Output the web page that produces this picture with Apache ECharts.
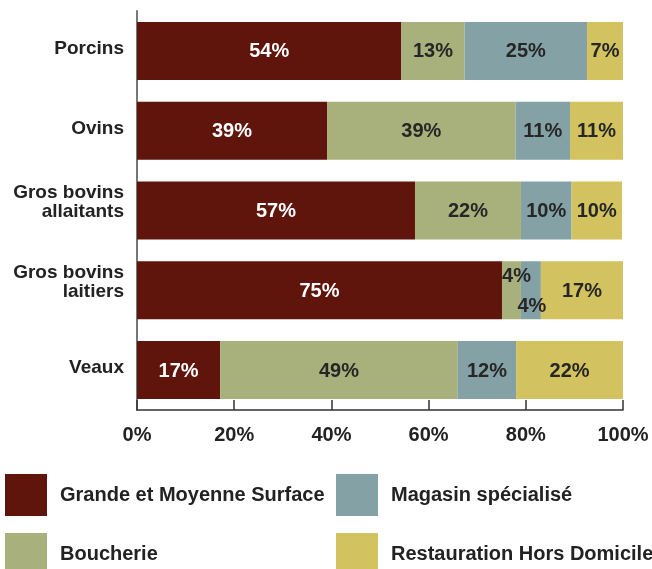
<!DOCTYPE html>
<html>
<head>
<meta charset="utf-8">
<script src="https://cdn.jsdelivr.net/npm/echarts@6/dist/echarts.min.js"></script>
<style>
html,body{margin:0;padding:0;background:#fff;}
#chart{width:652px;height:569px;}
</style>
</head>
<body>
<div id="chart"></div>
<script>
var categories = ['Porcins', 'Ovins', 'Gros bovins\nallaitants', 'Gros bovins\nlaitiers', 'Veaux'];
var seriesNames = ['Grande et Moyenne Surface', 'Boucherie', 'Magasin spécialisé', 'Restauration Hors Domicile'];
var gms = [54.4, 39.1, 57.2, 75.1, 17.1];
var boucherie = [13.0, 38.8, 21.8, 3.9, 48.9];
var magasin = [25.2, 11.2, 10.4, 4.1, 12.0];
var restauration = [7.4, 10.9, 10.4, 16.9, 22.0];
var xTicks = [0, 20, 40, 60, 80, 100];

var colors = ['#60150c', '#a8b07c', '#84a1a6', '#d2c260'];
var labelColors = ['#ffffff', '#262626', '#262626', '#262626'];
var FONT = '"Liberation Sans", Arial, sans-serif';

var chart = echarts.init(document.getElementById('chart'), null, {renderer: 'canvas'});

function makeData(arr, si) {
  return arr.map(function (v, i) {
    var item = {value: v};
    if (i === 3 && si === 1) item.label = {offset: [5, -14]};
    if (i === 3 && si === 2) item.label = {offset: [1, 16]};
    return item;
  });
}

var allValues = [gms, boucherie, magasin, restauration];
var series = allValues.map(function (arr, si) {
  return {
    name: seriesNames[si],
    type: 'bar',
    stack: 'total',
    barWidth: 58,
    data: makeData(arr, si),
    itemStyle: {color: colors[si]},
    label: {
      show: true,
      position: 'inside',
      offset: [0, 1],
      formatter: function (p) { return Math.round(p.value) + '%'; },
      color: labelColors[si],
      fontFamily: FONT,
      fontWeight: 'bold',
      fontSize: 20
    },
    emphasis: {disabled: true}
  };
});

var legendText = {
  fontFamily: FONT,
  fontWeight: 'bold',
  fontSize: 20,
  color: '#222',
  padding: [0, 0, 0, 8]
};
var legendPos = [[5, 474], [5, 533], [336, 474], [336, 533]];
var legends = seriesNames.map(function (name, i) {
  return {
    data: [name],
    orient: 'vertical',
    left: legendPos[i][0], top: legendPos[i][1],
    padding: 0,
    itemWidth: 42, itemHeight: 42,
    icon: 'rect',
    textStyle: legendText,
    selectedMode: false
  };
});

chart.setOption({
  animation: false,
  backgroundColor: '#fff',
  grid: {left: 137, right: 29, top: 11, bottom: 159, containLabel: false},
  legend: legends,
  xAxis: {
    type: 'value',
    min: 0, max: 100, interval: 20,
    splitLine: {show: false},
    axisLine: {show: true, lineStyle: {color: '#333', width: 1.5}},
    axisTick: {show: true, inside: true, length: 10, lineStyle: {color: '#333', width: 1.5}},
    axisLabel: {
      formatter: function (v) { return xTicks.indexOf(v) >= 0 ? v + '%' : ''; },
      margin: 15,
      fontFamily: FONT, fontWeight: 'bold', fontSize: 20, color: '#222'
    }
  },
  yAxis: {
    type: 'category',
    data: categories,
    inverse: true,
    axisLine: {show: true, lineStyle: {color: '#777', width: 2}},
    axisTick: {show: false},
    axisLabel: {
      margin: 13,
      fontFamily: FONT, fontWeight: 'bold', fontSize: 19, color: '#222',
      lineHeight: 19,
      formatter: function (v) {
        return v.indexOf('\n') >= 0 ? v + '\n{s|}' : v + '\n{t|}';
      },
      rich: {s: {lineHeight: 16, fontSize: 1}, t: {lineHeight: 4, fontSize: 1}}
    }
  },
  series: series
});
</script>
</body>
</html>
